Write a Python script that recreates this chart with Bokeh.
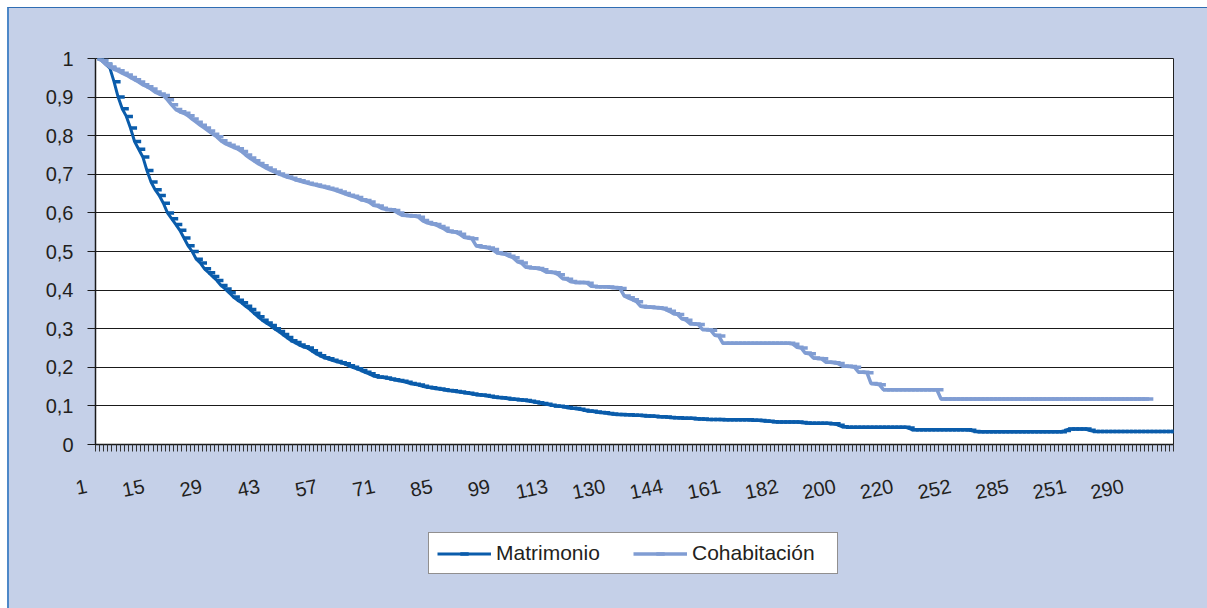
from bokeh.plotting import figure
from bokeh.layouts import column
from bokeh.models import Range1d, FixedTicker, Legend, LegendItem, ColumnDataSource
from bokeh.transform import dodge
from bokeh.embed import file_html
from bokeh.resources import INLINE

# ---------------- data ----------------
matrimonio = [
    1.0, 0.995, 0.985, 0.975, 0.94, 0.90, 0.87, 0.85, 0.82, 0.785,
    0.765, 0.745, 0.71, 0.68, 0.66, 0.645, 0.625, 0.6, 0.585, 0.57,
    0.555, 0.535, 0.515, 0.5, 0.48, 0.47, 0.455, 0.445, 0.435, 0.425,
    0.412, 0.403, 0.393, 0.382, 0.374, 0.367, 0.358, 0.35, 0.34, 0.331,
    0.322, 0.315, 0.308, 0.3, 0.293, 0.285, 0.277, 0.269, 0.264, 0.258,
    0.253, 0.25, 0.243, 0.236, 0.23, 0.225, 0.222, 0.218, 0.215, 0.212,
    0.209, 0.204, 0.2, 0.196, 0.192, 0.187, 0.183, 0.178, 0.175, 0.174,
    0.172, 0.17, 0.168, 0.166, 0.164, 0.161, 0.158, 0.156, 0.154, 0.151,
    0.148, 0.147, 0.145, 0.144, 0.142, 0.14, 0.139, 0.137, 0.136, 0.134,
    0.133, 0.131, 0.129, 0.128, 0.127, 0.125, 0.123, 0.122, 0.121, 0.12,
    0.118, 0.117, 0.116, 0.115, 0.114, 0.112, 0.11, 0.108, 0.106, 0.104,
    0.102, 0.1, 0.099, 0.098, 0.096, 0.094, 0.093, 0.091, 0.089, 0.087,
    0.086, 0.084, 0.083, 0.082, 0.08, 0.079, 0.078, 0.078, 0.077, 0.077,
    0.076, 0.076, 0.075, 0.074, 0.074, 0.073, 0.072, 0.072, 0.071, 0.070,
    0.069, 0.069, 0.068, 0.068, 0.068, 0.067, 0.066, 0.066, 0.065, 0.065,
    0.065, 0.065, 0.064, 0.064, 0.064, 0.064, 0.064, 0.064, 0.064, 0.063,
    0.063, 0.062, 0.061, 0.060, 0.059, 0.058, 0.058, 0.058, 0.058, 0.058,
    0.058, 0.057, 0.056, 0.055, 0.055, 0.055, 0.055, 0.055, 0.054, 0.054,
    0.05, 0.046, 0.045, 0.045, 0.045, 0.045, 0.045, 0.045, 0.045, 0.045,
    0.045, 0.045, 0.045, 0.045, 0.045, 0.045, 0.045, 0.043, 0.038, 0.038,
    0.038, 0.038, 0.038, 0.038, 0.038, 0.038, 0.038, 0.038, 0.038, 0.038,
    0.038, 0.038, 0.037, 0.034, 0.033, 0.033, 0.033, 0.033, 0.033, 0.033,
    0.033, 0.033, 0.033, 0.033, 0.033, 0.033, 0.033, 0.033, 0.033, 0.033,
    0.033, 0.033, 0.033, 0.033, 0.033, 0.036, 0.04, 0.04, 0.04, 0.04,
    0.04, 0.037, 0.034, 0.034, 0.034, 0.034, 0.034, 0.034, 0.034, 0.034,
    0.034, 0.034, 0.034, 0.034, 0.034, 0.034, 0.034, 0.034, 0.034, 0.034,
    0.034, 0.034,
]

cohabitacion = [
    1.0, 0.995, 0.985, 0.978, 0.972, 0.968, 0.962, 0.957, 0.951, 0.945,
    0.939, 0.932, 0.927, 0.921, 0.913, 0.908, 0.904, 0.893, 0.88, 0.868,
    0.862, 0.858, 0.852, 0.843, 0.835, 0.827, 0.82, 0.812, 0.804, 0.797,
    0.787, 0.78, 0.775, 0.77, 0.766, 0.759, 0.75, 0.742, 0.735, 0.728,
    0.722, 0.716, 0.711, 0.706, 0.701, 0.697, 0.693, 0.69, 0.686, 0.683,
    0.68, 0.677, 0.674, 0.672, 0.669, 0.667, 0.664, 0.661, 0.658, 0.654,
    0.65, 0.646, 0.643, 0.64, 0.634, 0.632, 0.628, 0.62, 0.618, 0.612,
    0.609, 0.608, 0.606, 0.6, 0.594, 0.593, 0.592, 0.592, 0.589, 0.58,
    0.575, 0.572, 0.57, 0.565, 0.56, 0.553, 0.551, 0.55, 0.545, 0.537,
    0.535, 0.533, 0.515, 0.512, 0.511, 0.509, 0.505, 0.497, 0.495, 0.493,
    0.488, 0.484, 0.474, 0.47, 0.46, 0.458, 0.457, 0.456, 0.453, 0.447,
    0.446, 0.445, 0.44, 0.43, 0.428, 0.422, 0.42, 0.42, 0.42, 0.418,
    0.41, 0.409, 0.409, 0.409, 0.408, 0.407, 0.406, 0.404, 0.385, 0.38,
    0.375, 0.37, 0.358, 0.356, 0.356, 0.355, 0.354, 0.353, 0.35, 0.345,
    0.339, 0.337, 0.326, 0.322, 0.313, 0.312, 0.311, 0.298, 0.297, 0.296,
    0.283, 0.281, 0.262, 0.262, 0.262, 0.262, 0.262, 0.262, 0.262, 0.262,
    0.262, 0.262, 0.262, 0.262, 0.262, 0.262, 0.262, 0.262, 0.262, 0.26,
    0.252, 0.25, 0.237, 0.235, 0.224, 0.223, 0.222, 0.213, 0.213, 0.212,
    0.21, 0.203, 0.203, 0.202, 0.2, 0.187, 0.187, 0.186, 0.158, 0.157,
    0.155, 0.142, 0.142, 0.142, 0.142, 0.142, 0.142, 0.142, 0.142, 0.142,
    0.142, 0.142, 0.142, 0.142, 0.142, 0.118, 0.118, 0.118, 0.118, 0.118,
    0.118, 0.118, 0.118, 0.118, 0.118, 0.118, 0.118, 0.118, 0.118, 0.118,
    0.118, 0.118, 0.118, 0.118, 0.118, 0.118, 0.118, 0.118, 0.118, 0.118,
    0.118, 0.118, 0.118, 0.118, 0.118, 0.118, 0.118, 0.118, 0.118, 0.118,
    0.118, 0.118, 0.118, 0.118, 0.118, 0.118, 0.118, 0.118, 0.118, 0.118,
    0.118, 0.118, 0.118, 0.118, 0.118, 0.118,
]

x_tick_labels = ["1", "15", "29", "43", "57", "71", "85", "99", "113", "130",
                 "144", "161", "182", "200", "220", "252", "285", "251", "290"]
label_every = 14
y_ticks = [0, 0.1, 0.2, 0.3, 0.4, 0.5, 0.6, 0.7, 0.8, 0.9, 1.0]
y_tick_labels = ["0", "0,1", "0,2", "0,3", "0,4", "0,5", "0,6", "0,7", "0,8", "0,9", "1"]
series_names = ["Matrimonio", "Cohabitación"]

# ---------------- styling ----------------
FONT = "Liberation Sans"
TXT = "#231f20"
C_MAT = "#0a5cab"
C_COH = "#809dd3"
BG = "#c5d0e8"
PAD = "\u00a0\u00a0"  # keeps the rotated labels' ends a little left of their ticks, as in the reference

n_cat = len(matrimonio)

p = figure(frame_width=1078, frame_height=386, output_backend="svg", toolbar_location=None,
           x_range=Range1d(-0.5, n_cat - 0.5), y_range=Range1d(0, 1),
           min_border_left=86, min_border_right=34, min_border_top=50, min_border_bottom=75,
           background_fill_color="white", border_fill_color=BG)
p.outline_line_color = "#222222"
p.outline_line_width = 1

# grid
p.xgrid.visible = False
p.ygrid.ticker = FixedTicker(ticks=y_ticks)
p.ygrid.grid_line_color = "#1a1a1a"
p.ygrid.grid_line_width = 1

# y axis
ya = p.yaxis[0]
ya.ticker = FixedTicker(ticks=y_ticks)
ya.major_label_overrides = {t: lab for t, lab in zip(y_ticks, y_tick_labels)}
ya.major_tick_out = 8
ya.major_tick_in = 0
ya.minor_tick_out = 0
ya.minor_tick_in = 0
ya.major_label_standoff = 14
ya.axis_line_color = "#1a1a1a"
ya.axis_line_width = 1.5
ya.major_tick_line_color = "#1a1a1a"
ya.major_label_text_font = FONT
ya.major_label_text_font_size = "20px"
ya.major_label_text_color = TXT

# x axis (categories: one small tick per category, label every 14th)
xa = p.xaxis[0]
major_pos = [i * label_every for i in range(len(x_tick_labels))]
xa.ticker = FixedTicker(ticks=major_pos, minor_ticks=[i - 0.5 for i in range(n_cat + 1)])
xa.major_label_overrides = {pos: lab + PAD for pos, lab in zip(major_pos, x_tick_labels)}
xa.major_tick_out = 0
xa.major_tick_in = 0
xa.minor_tick_out = 7
xa.minor_tick_in = 0
xa.minor_tick_line_color = "#333333"
xa.axis_line_color = "#1a1a1a"
xa.axis_line_width = 1.5
xa.major_label_orientation = 0.2
xa.major_label_standoff = 32
xa.major_label_text_font = FONT
xa.major_label_text_font_size = "20px"
xa.major_label_text_color = TXT

# series
src_m = ColumnDataSource(dict(x=list(range(len(matrimonio))), y=matrimonio))
src_c = ColumnDataSource(dict(x=list(range(len(cohabitacion))), y=cohabitacion))

line_m = dict(line_color=C_MAT, line_width=3)
mark_m = dict(marker="dash", size=7, line_color=C_MAT, line_width=3.5)
line_c = dict(line_color=C_COH, line_width=3.5)
mark_c = dict(marker="dash", size=7, line_color=C_COH, line_width=3.5)

p.line("x", "y", source=src_m, **line_m)
p.scatter(dodge("x", 0.75, range=p.x_range), "y", source=src_m, **mark_m)
p.line("x", "y", source=src_c, **line_c)
p.scatter(dodge("x", 0.75, range=p.x_range), "y", source=src_c, **mark_c)

# ---------------- legend strip below the chart ----------------
# same data sources; ranges chosen so nothing is drawn here except the legend
p2 = figure(width=1198, height=89, output_backend="svg", toolbar_location=None,
            x_range=Range1d(-20, -10), y_range=Range1d(-20, -10),
            x_axis_location=None, y_axis_location=None,
            min_border_left=0, min_border_right=0, min_border_top=0, min_border_bottom=0,
            background_fill_color=BG, border_fill_color=BG)
p2.outline_line_color = None
p2.xgrid.visible = False
p2.ygrid.visible = False
lm2 = p2.line("x", "y", source=src_m, **line_m)
sm2 = p2.scatter("x", "y", source=src_m, **mark_m)
lc2 = p2.line("x", "y", source=src_c, **line_c)
sc2 = p2.scatter("x", "y", source=src_c, **mark_c)

legend = Legend(items=[LegendItem(label=series_names[0], renderers=[lm2, sm2]),
                       LegendItem(label=series_names[1], renderers=[lc2, sc2])],
                location=(333, 34), orientation="horizontal",
                glyph_width=54, glyph_height=21, label_height=21, label_width=137,
                label_standoff=5, spacing=0, padding=8, margin=0,
                border_line_color=TXT, border_line_width=1,
                background_fill_color="white", background_fill_alpha=1,
                label_text_font=FONT, label_text_font_size="21px", label_text_color=TXT)
p2.add_layout(legend)

layout = column(p, p2, spacing=0)
layout.styles = {"margin-left": "7px", "margin-top": "7px", "background-color": BG,
                 "border-left": "2px solid #4d88c8", "border-top": "1px solid #2f6db3"}

open("out.html", "w").write(file_html(layout, INLINE))
